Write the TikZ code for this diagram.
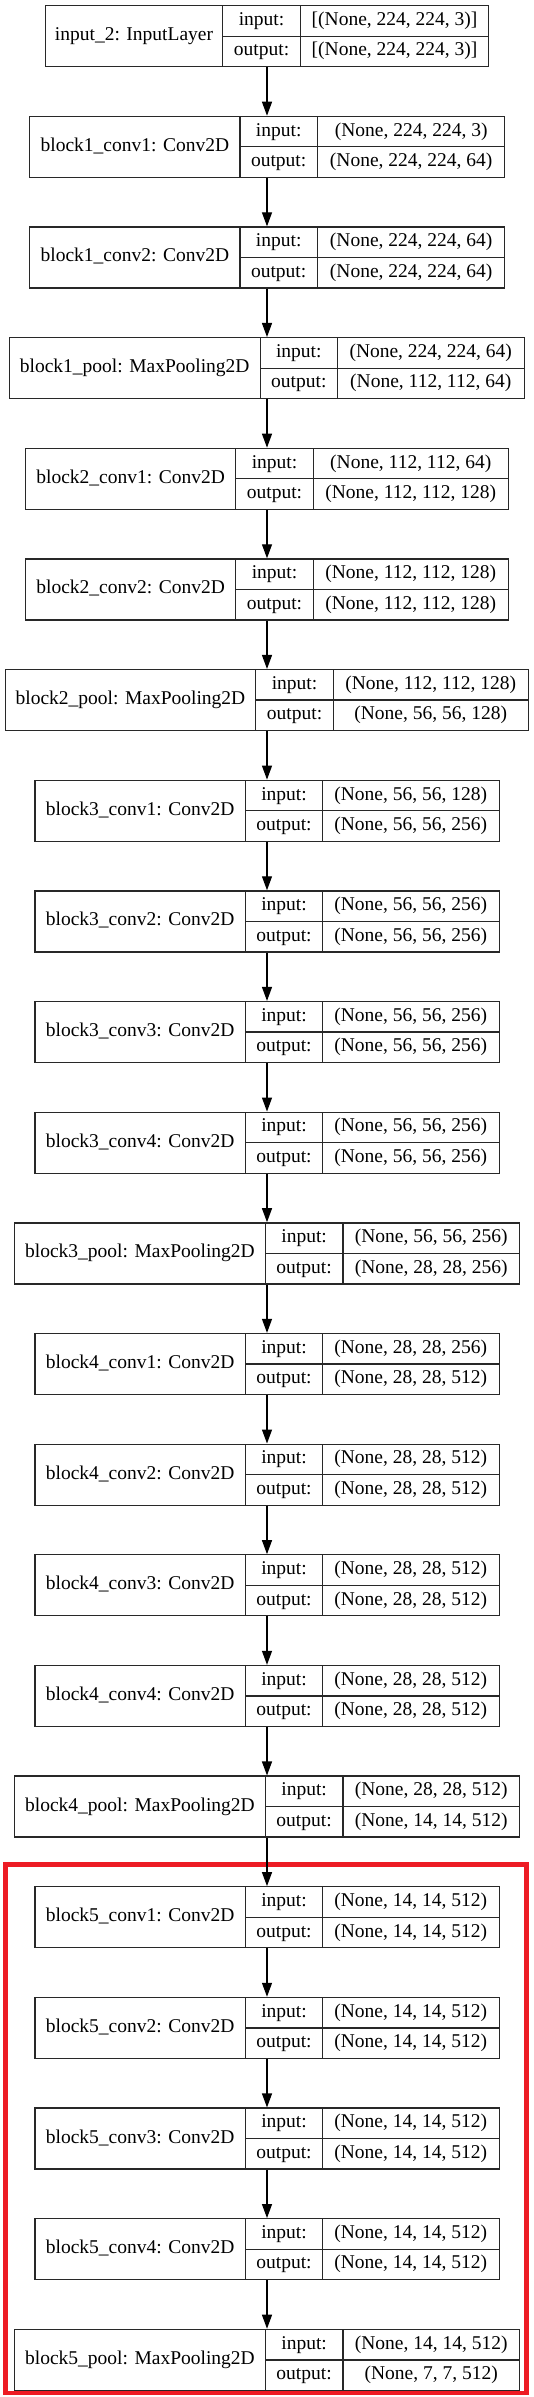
\documentclass[tikz,border=0pt]{standalone}
\usepackage{fontspec}
\setmainfont{Liberation Serif}
\usetikzlibrary{arrows.meta}
\definecolor{hlred}{RGB}{237,28,36}
\definecolor{edge}{RGB}{40,40,40}
\tikzset{
  box/.style={draw=edge, line width=1.3pt, rectangle, inner sep=0pt, fill=white},
  cellline/.style={draw=edge, line width=1.3pt},
  txt/.style={inner sep=0pt, text height=13.5pt, text depth=4.5pt, font=\fontsize{19.5}{23}\selectfont},
  arr/.style={draw=black, line width=1.2pt, -{Triangle[length=14pt,width=10pt]}},
  hlframe/.style={draw=hlred, line width=4.5pt}
}
% #1 name, #2 index, #3 x0, #4 x1, #5 x2, #6 x3, #7 label, #8 input, #9 output
\newcommand\kerlayer[9]{%
  \pgfmathsetmacro\yt{5.7+#2*110.65}%
  \pgfmathsetmacro\ym{\yt+30.5}%
  \pgfmathsetmacro\yb{\yt+61}%
  \pgfmathsetmacro\ya{\yt+15.25}%
  \pgfmathsetmacro\yc{\ym+15.25}%
  \node[box, minimum width={(#6-#3)*1pt}, minimum height=61pt] (#1) at (267,\ym) {};
  \draw[cellline] (#4,\yt) -- (#4,\yb) (#5,\yt) -- (#5,\yb) (#4,\ym) -- (#6,\ym);
  \node[txt] (#1-name) at ({(#3+#4)/2},\ym) {#7};
  \node[txt] (#1-inl) at ({(#4+#5)/2},\ya) {input:};
  \node[txt] (#1-outl) at ({(#4+#5)/2},\yc) {output:};
  \node[txt] (#1-in) at ({(#5+#6)/2},\ya) {#8};
  \node[txt] (#1-out) at ({(#5+#6)/2},\yc) {#9};
}
\begin{document}
\begin{tikzpicture}[x=1pt,y=-1pt]
\useasboundingbox (0,0) rectangle (533,2397);
\fill[white] (0,0) rectangle (533,2397);
\draw[hlframe] (5.3,1864.5) rectangle (526.5,2393);
\kerlayer{in2}{0}{45.2}{222.8}{300.3}{488.8}{input\_2: InputLayer}{[(None, 224, 224, 3)]}{[(None, 224, 224, 3)]}
\kerlayer{b1c1}{1}{29.6}{240.1}{317.3}{505.1}{block1\_conv1: Conv2D}{(None, 224, 224, 3)}{(None, 224, 224, 64)}
\kerlayer{b1c2}{2}{29.6}{240.1}{317.3}{505.1}{block1\_conv2: Conv2D}{(None, 224, 224, 64)}{(None, 224, 224, 64)}
\kerlayer{b1p}{3}{9.2}{260.2}{337.4}{524.1}{block1\_pool: MaxPooling2D}{(None, 224, 224, 64)}{(None, 112, 112, 64)}
\kerlayer{b2c1}{4}{25.5}{235.7}{313.3}{508.2}{block2\_conv1: Conv2D}{(None, 112, 112, 64)}{(None, 112, 112, 128)}
\kerlayer{b2c2}{5}{25.5}{235.7}{313.3}{508.2}{block2\_conv2: Conv2D}{(None, 112, 112, 128)}{(None, 112, 112, 128)}
\kerlayer{b2p}{6}{5.1}{255.8}{333.3}{528.2}{block2\_pool: MaxPooling2D}{(None, 112, 112, 128)}{(None, 56, 56, 128)}
\kerlayer{b3c1}{7}{34.7}{245.6}{322.4}{499}{block3\_conv1: Conv2D}{(None, 56, 56, 128)}{(None, 56, 56, 256)}
\kerlayer{b3c2}{8}{34.7}{245.6}{322.4}{499}{block3\_conv2: Conv2D}{(None, 56, 56, 256)}{(None, 56, 56, 256)}
\kerlayer{b3c3}{9}{34.7}{245.6}{322.4}{499}{block3\_conv3: Conv2D}{(None, 56, 56, 256)}{(None, 56, 56, 256)}
\kerlayer{b3c4}{10}{34.7}{245.6}{322.4}{499}{block3\_conv4: Conv2D}{(None, 56, 56, 256)}{(None, 56, 56, 256)}
\kerlayer{b3p}{11}{14.6}{265.3}{342.9}{519.4}{block3\_pool: MaxPooling2D}{(None, 56, 56, 256)}{(None, 28, 28, 256)}
\kerlayer{b4c1}{12}{34.7}{245.6}{322.4}{499}{block4\_conv1: Conv2D}{(None, 28, 28, 256)}{(None, 28, 28, 512)}
\kerlayer{b4c2}{13}{34.7}{245.6}{322.4}{499}{block4\_conv2: Conv2D}{(None, 28, 28, 512)}{(None, 28, 28, 512)}
\kerlayer{b4c3}{14}{34.7}{245.6}{322.4}{499}{block4\_conv3: Conv2D}{(None, 28, 28, 512)}{(None, 28, 28, 512)}
\kerlayer{b4c4}{15}{34.7}{245.6}{322.4}{499}{block4\_conv4: Conv2D}{(None, 28, 28, 512)}{(None, 28, 28, 512)}
\kerlayer{b4p}{16}{14.6}{265.3}{342.9}{519.4}{block4\_pool: MaxPooling2D}{(None, 28, 28, 512)}{(None, 14, 14, 512)}
\kerlayer{b5c1}{17}{34.7}{245.6}{322.4}{499}{block5\_conv1: Conv2D}{(None, 14, 14, 512)}{(None, 14, 14, 512)}
\kerlayer{b5c2}{18}{34.7}{245.6}{322.4}{499}{block5\_conv2: Conv2D}{(None, 14, 14, 512)}{(None, 14, 14, 512)}
\kerlayer{b5c3}{19}{34.7}{245.6}{322.4}{499}{block5\_conv3: Conv2D}{(None, 14, 14, 512)}{(None, 14, 14, 512)}
\kerlayer{b5c4}{20}{34.7}{245.6}{322.4}{499}{block5\_conv4: Conv2D}{(None, 14, 14, 512)}{(None, 14, 14, 512)}
\kerlayer{b5p}{21}{14.6}{265.3}{342.9}{519.4}{block5\_pool: MaxPooling2D}{(None, 14, 14, 512)}{(None, 7, 7, 512)}
\foreach \a/\b in {in2/b1c1,b1c1/b1c2,b1c2/b1p,b1p/b2c1,b2c1/b2c2,b2c2/b2p,b2p/b3c1,b3c1/b3c2,b3c2/b3c3,b3c3/b3c4,b3c4/b3p,b3p/b4c1,b4c1/b4c2,b4c2/b4c3,b4c3/b4c4,b4c4/b4p,b4p/b5c1,b5c1/b5c2,b5c2/b5c3,b5c3/b5c4,b5c4/b5p}
  \draw[arr] (\a.south) -- (\b.north);
\end{tikzpicture}
\end{document}
